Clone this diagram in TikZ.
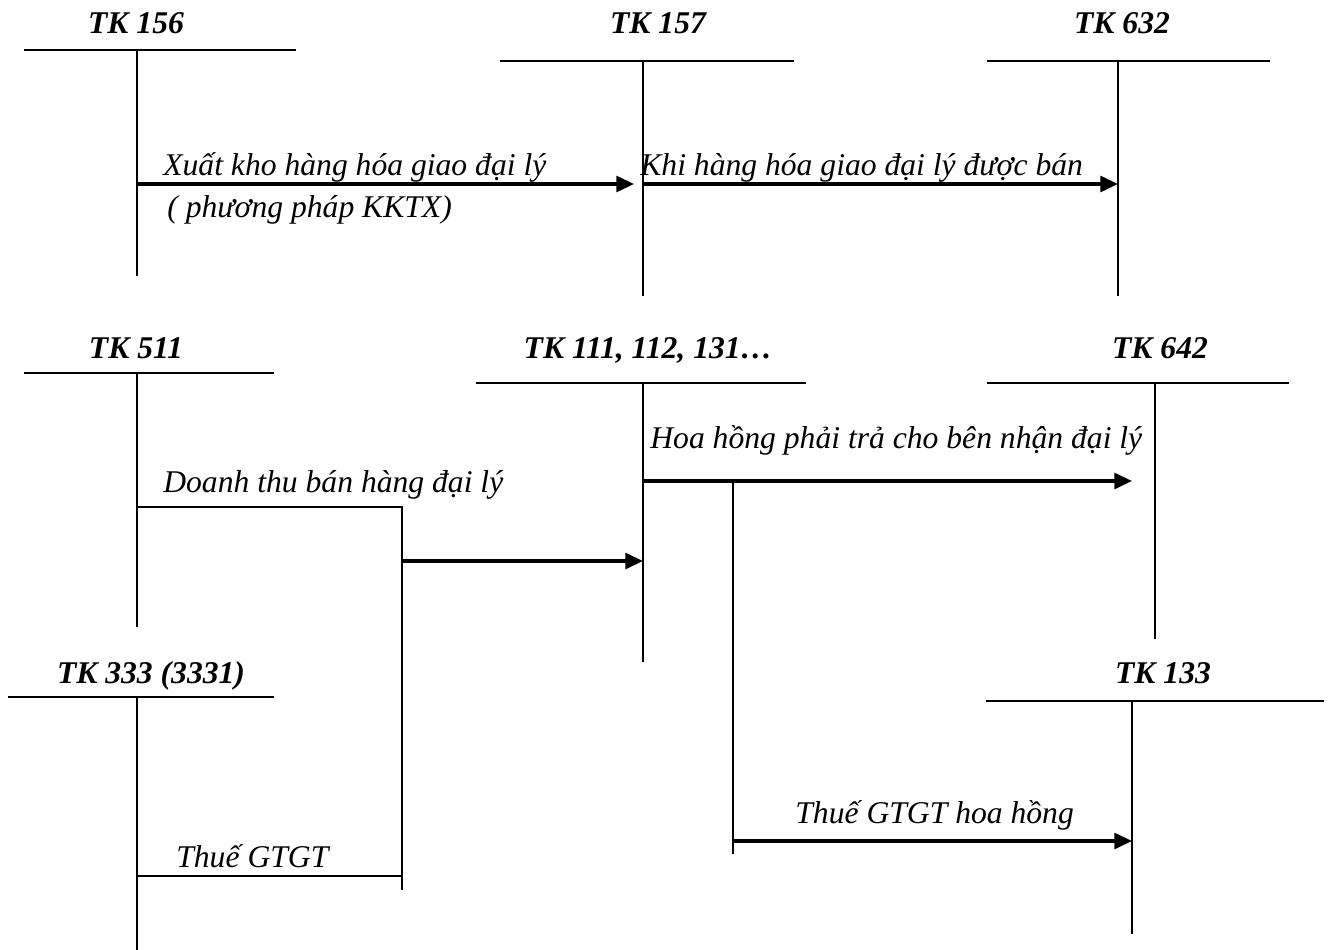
\documentclass[tikz,border=0pt]{standalone}
\usepackage{fontspec}
\setmainfont{Liberation Serif}
\usetikzlibrary{arrows.meta}

\begin{document}
\begin{tikzpicture}[x=0.02cm, y=-0.02cm,
    tbar/.style={line width=1.4pt},
    tleg/.style={line width=1pt},
    plain/.style={line width=1.3pt},
    flow/.style={line width=1.8pt, -{Triangle[length=10pt,width=9pt]}},
    acct/.style={font=\fontsize{18}{21}\selectfont\bfseries\itshape, anchor=base, inner sep=0pt},
    note/.style={font=\fontsize{18}{21}\selectfont\itshape, anchor=base west, inner sep=0pt}]

    \useasboundingbox (0,0) rectangle (1333,950);

    %----- T ACCOUNTS: bar ends, leg top and leg bottom -----
    \coordinate (l156) at (24,50);   \coordinate (r156) at (296,50);
    \coordinate (t156) at (137,50);  \coordinate (b156) at (137,276);
    \coordinate (l157) at (500,61);  \coordinate (r157) at (794,61);
    \coordinate (t157) at (643,61);  \coordinate (b157) at (643,296);
    \coordinate (l632) at (987,61);  \coordinate (r632) at (1270,61);
    \coordinate (t632) at (1118,61); \coordinate (b632) at (1118,296);
    \coordinate (l511) at (24,373);  \coordinate (r511) at (274,373);
    \coordinate (t511) at (137,373); \coordinate (b511) at (137,627);
    \coordinate (l111) at (476,383); \coordinate (r111) at (806,383);
    \coordinate (t111) at (643,383); \coordinate (b111) at (643,662);
    \coordinate (l642) at (987,383); \coordinate (r642) at (1289,383);
    \coordinate (t642) at (1155,383); \coordinate (b642) at (1155,639);
    \coordinate (l333) at (8,697);   \coordinate (r333) at (274,697);
    \coordinate (t333) at (137,697); \coordinate (b333) at (137,950);
    \coordinate (l133) at (986,701); \coordinate (r133) at (1324,701);
    \coordinate (t133) at (1132,701); \coordinate (b133) at (1132,934);

    \foreach \k in {156,157,632,511,111,642,333,133} {
        \draw[tbar] (l\k) -- (r\k);
        \draw[tleg] (t\k) -- (b\k);
    }

    %----- ACCOUNT NAMES -----
    \node[acct] (n156) at (136,33)  {TK 156};
    \node[acct] (n157) at (658,33)  {TK 157};
    \node[acct] (n632) at (1122,33) {TK 632};
    \node[acct] (n511) at (136,358) {TK 511};
    \node[acct] (n111) at (648,358) {TK 111, 112, 131…};
    \node[acct] (n642) at (1160,358) {TK 642};
    \node[acct] (n333) at (151,683) {TK 333 (3331)};
    \node[acct] (n133) at (1163,683) {TK 133};

    %----- ENTRIES -----
    \coordinate (s1) at (137,184);  \coordinate (e1) at (634,184);
    \coordinate (s2) at (643,184);  \coordinate (e2) at (1118,184);
    \draw[flow] (s1) -- (e1);
    \draw[flow] (s2) -- (e2);
    \node[note] (xk) at (163,175) {Xuất kho hàng hóa giao đại lý};
    \node[note] (pp) at (167,217) {( phương pháp KKTX)};
    \node[note] (kb) at (640,175) {Khi hàng hóa giao đại lý được bán};

    % revenue and output VAT gathered on one leg
    \coordinate (dt) at (137,507);  \coordinate (dtc) at (402,507);
    \coordinate (vt) at (137,876);  \coordinate (vtc) at (402,876);
    \coordinate (cb) at (402,890);
    \coordinate (cm) at (402,561);  \coordinate (e3) at (643,561);
    \draw[plain] (dt) -- (dtc) -- (cb);
    \draw[plain] (vt) -- (vtc);
    \draw[flow] (cm) -- (e3);
    \node[note] (dn) at (163,492) {Doanh thu bán hàng đại lý};
    \node[note] (th) at (176,867) {Thuế GTGT};

    % commission and input VAT
    \coordinate (s4) at (643,481);  \coordinate (e4) at (1132,481);
    \coordinate (hv) at (733,481);  \coordinate (hb) at (733,854);
    \coordinate (s5) at (733,841);  \coordinate (e5) at (1132,841);
    \draw[flow] (s4) -- (e4);
    \draw[plain] (hv) -- (hb);
    \draw[flow] (s5) -- (e5);
    \node[note] (hh) at (650,448) {Hoa hồng phải trả cho bên nhận đại lý};
    \node[note] (tg) at (795,823) {Thuế GTGT hoa hồng};

\end{tikzpicture}
\end{document}
